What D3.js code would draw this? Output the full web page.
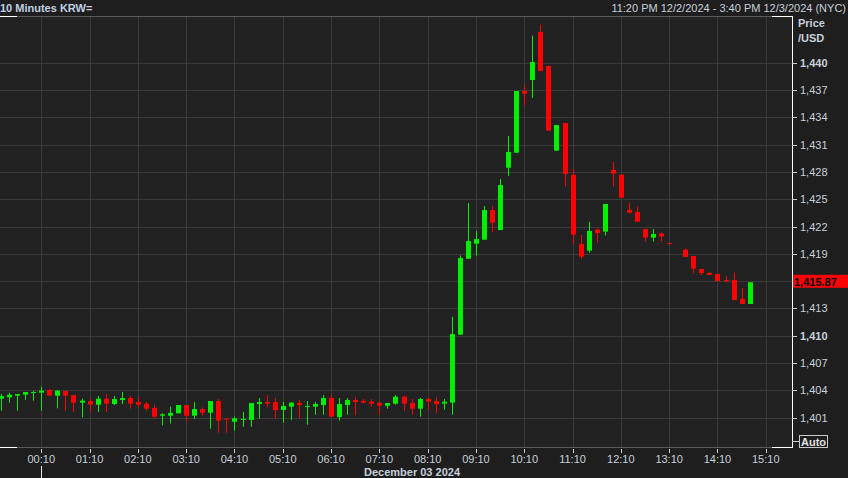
<!DOCTYPE html>
<html><head><meta charset="utf-8">
<script src="https://cdn.jsdelivr.net/npm/d3@7/dist/d3.min.js"></script>
<style>
html,body{margin:0;padding:0;background:#1e1e1e;overflow:hidden}
svg{display:block}
text{font-family:"Liberation Sans",Arial,sans-serif;font-size:11px}
</style></head><body>
<svg id="c" width="848" height="478"></svg>
<script>
const title = "10 Minutes KRW=";
const rangeText = "11:20 PM 12/2/2024 - 3:40 PM 12/3/2024 (NYC)";
const dateLabel = "December 03 2024";
const axisTitle = ["Price", "/USD"];
const startTime = "2024-12-02T23:20:00Z";
const endTime = "2024-12-03T15:40:00Z";
const stepMinutes = 10;

const opens = [1403.08,1403.23,1403.41,1403.52,1403.74,1403.74,1404.03,1403.41,1403.92,1403.48,
1402.64,1402.82,1402.42,1403.08,1402.49,1402.93,1403.15,1402.71,1402.53,1402.05,
1401.21,1401.21,1401.47,1402.38,1401.21,1401.94,1401.54,1402.82,1400.88,1400.55,
1400.77,1400.74,1402.49,1402.71,1402.71,1401.83,1402.20,1402.60,1402.20,1402.20,
1402.38,1403.15,1401.07,1402.38,1402.93,1402.82,1402.75,1402.60,1402.31,1402.53,
1403.30,1402.60,1401.98,1403.04,1402.82,1402.53,1402.64,1410.11,1418.46,1420.11,
1420.55,1423.81,1421.61,1428.46,1430.11,1436.89,1438.10,1443.37,1439.64,1430.33,
1433.37,1427.66,1420.08,1419.35,1421.66,1421.44,1428.21,1427.70,1423.82,1423.60,
1421.73,1420.78,1421.22,1420.17,null,1419.46,1418.76,1417.33,1416.89,1416.78,
1416.12,1416.12,1414.04,1413.49];
const highs = [1403.59,1403.74,1403.59,1403.81,1403.96,1404.40,1404.11,1404.03,1403.92,1403.48,
1403.08,1403.08,1403.37,1403.59,1403.37,1403.81,1403.37,1403.23,1402.71,1402.42,
1401.47,1402.20,1402.38,1402.38,1402.71,1402.13,1402.82,1403.04,1400.88,1401.10,
1401.62,1402.60,1403.15,1403.45,1403.15,1402.71,1402.71,1402.93,1402.82,1402.71,
1403.48,1403.48,1403.15,1403.15,1403.23,1403.04,1403.04,1402.82,1402.60,1403.48,
1403.41,1403.04,1403.15,1403.23,1403.23,1403.04,1412.09,1418.83,1424.58,1421.50,
1424.25,1424.25,1427.22,1431.94,1436.89,1437.55,1442.97,1444.18,1439.64,1433.15,
1433.37,1428.32,1421.07,1422.50,1421.77,1424.48,1429.09,1427.70,1424.62,1424.18,
1421.73,1421.73,1421.33,1420.17,null,1419.57,1418.76,1417.33,1417.00,1416.78,
1416.56,1416.93,1415.25,1415.87];
const lows = [1401.76,1402.64,1401.76,1402.93,1402.86,1401.76,1403.41,1402.02,1401.76,1401.62,
1401.03,1401.62,1401.62,1401.62,1402.38,1402.49,1401.98,1402.13,1401.76,1400.88,
1400.15,1400.37,1401.47,1400.55,1400.85,1401.21,1399.78,1399.34,1399.34,1399.56,
1400.00,1400.00,1400.88,1402.13,1400.88,1400.44,1400.74,1400.88,1400.22,1401.32,
1401.32,1401.10,1400.66,1401.32,1401.25,1402.60,1402.20,1401.32,1401.98,1402.42,
1401.76,1401.32,1401.10,1401.87,1401.47,1401.87,1401.32,1410.11,1418.46,1418.79,
1420.55,1421.39,1421.61,1427.58,1430.11,1435.31,1436.12,1439.09,1432.53,1430.33,
1426.38,1420.07,1418.40,1419.13,1420.23,1421.00,1426.38,1425.17,1423.45,1422.53,
1420.34,1420.34,1420.34,1420.13,null,1418.65,1416.86,1416.67,1416.67,1416.01,
1415.83,1413.93,1413.49,1413.49];
const closes = [1403.37,1403.52,1403.59,1403.81,1403.81,1403.96,1403.41,1403.96,1403.41,1402.64,
1402.86,1402.42,1403.08,1402.53,1403.04,1403.15,1402.53,1402.42,1401.98,1401.10,
1401.36,1401.51,1402.38,1401.21,1401.94,1401.54,1402.82,1400.66,1400.81,1400.92,
1400.85,1402.60,1402.71,1402.53,1401.83,1402.27,1402.64,1402.38,1402.27,1402.49,
1403.15,1401.10,1402.49,1402.93,1402.71,1402.64,1402.53,1402.31,1402.60,1403.30,
1402.53,1401.98,1403.04,1402.75,1402.49,1402.75,1410.19,1418.54,1420.40,1420.62,
1423.81,1422.42,1426.56,1430.19,1436.89,1436.60,1440.08,1439.09,1432.53,1433.15,
1427.77,1421.10,1418.69,1421.51,1421.29,1424.48,1427.81,1425.17,1423.52,1422.53,
1420.78,1421.18,1420.89,1420.13,null,1418.65,1417.37,1416.89,1416.67,1416.01,
1416.05,1413.93,1413.49,1415.87];

const xTickTimes = ["00:10","01:10","02:10","03:10","04:10","05:10","06:10","07:10",
"08:10","09:10","10:10","11:10","12:10","13:10","14:10","15:10"];
const yTicks = [1401,1404,1407,1410,1413,1416,1419,1422,1425,1428,1431,1434,1437,1440];
const yTickLabels = ["1,401","1,404","1,407","1,410","1,413","1,416","1,419","1,422","1,425","1,428","1,431","1,434","1,437","1,440"];
const boldTicks = [1410,1440];
const lastPrice = 1415.87;
const lastPriceLabel = "1,415.87";

const W = 848, H = 478;
const plot = {left: 0, right: 792, top: 17, bottom: 447};
const colUp = "#00f000", colDown = "#ff0000";
const textCol = "#c6d0da";
const gridCol = "#3a3a3a";

const svg = d3.select("#c");
svg.append("rect").attr("width", W).attr("height", H).attr("fill", "#1e1e1e");
svg.append("rect").attr("x", plot.left).attr("y", plot.top)
  .attr("width", plot.right - plot.left).attr("height", plot.bottom - plot.top).attr("fill", "#222222");

const t0 = new Date(startTime), t1 = new Date(endTime);
const x = d3.scaleUtc().domain([t0, t1]).range([1, 789.9]);
const y = d3.scaleLinear().domain([1401, 1440]).range([417.6, 62.7]);

const candles = opens.map((o, i) => ({
  t: new Date(t0.getTime() + i * stepMinutes * 60000),
  o, h: highs[i], l: lows[i], c: closes[i]
})).filter(d => d.o != null);

const tickDates = xTickTimes.map(s => {
  const [hh, mm] = s.split(":").map(Number);
  return new Date(Date.UTC(2024, 11, 3, hh, mm));
});

// grid
const g = svg.append("g");
g.selectAll(".hg").data(yTicks).join("line")
  .attr("x1", plot.left).attr("x2", plot.right)
  .attr("y1", d => Math.round(y(d)) + 0.5).attr("y2", d => Math.round(y(d)) + 0.5)
  .attr("stroke", gridCol);
g.selectAll(".vg").data(tickDates).join("line")
  .attr("x1", d => Math.round(x(d)) + 0.5).attr("x2", d => Math.round(x(d)) + 0.5)
  .attr("y1", plot.top).attr("y2", plot.bottom)
  .attr("stroke", gridCol);

// frame
const fr = svg.append("g");
fr.append("line").attr("x1", 0).attr("x2", plot.right).attr("y1", plot.top - 0.5).attr("y2", plot.top - 0.5).attr("stroke", "#5a5a5a");
fr.append("line").attr("x1", 0).attr("x2", plot.right).attr("y1", plot.bottom + 0.5).attr("y2", plot.bottom + 0.5).attr("stroke", "#5a5a5a");
[[0, 17], [772, 792]].forEach(([a, b]) => {
  fr.append("line").attr("x1", a).attr("x2", b).attr("y1", plot.top - 0.5).attr("y2", plot.top - 0.5).attr("stroke", "#ffffff");
  fr.append("line").attr("x1", a).attr("x2", b).attr("y1", plot.bottom + 0.5).attr("y2", plot.bottom + 0.5).attr("stroke", "#ffffff");
});
fr.append("line").attr("x1", plot.right + 0.5).attr("x2", plot.right + 0.5)
  .attr("y1", plot.top - 1).attr("y2", plot.bottom + 1).attr("stroke", "#ffffff");

// candles
const cg = svg.append("g");
const bw = 5;
cg.selectAll(".wick").data(candles).join("line")
  .attr("x1", d => Math.round(x(d.t)) + 0.5).attr("x2", d => Math.round(x(d.t)) + 0.5)
  .attr("y1", d => y(d.h)).attr("y2", d => y(d.l))
  .attr("stroke", d => d.c > d.o ? colUp : colDown).attr("stroke-width", 1);
cg.selectAll(".body").data(candles).join("rect")
  .attr("x", d => Math.round(x(d.t)) - 2)
  .attr("width", bw)
  .attr("y", d => y(Math.max(d.o, d.c)))
  .attr("height", d => Math.max(1, Math.abs(y(d.o) - y(d.c))))
  .attr("fill", d => d.c > d.o ? colUp : colDown);

// right axis
const yl = y(lastPrice);
const shownTicks = yTicks.filter(d => Math.abs(y(d) - yl) > 9);
const ra = svg.append("g");
ra.selectAll(".yt").data(yTicks).join("line")
  .attr("x1", plot.right).attr("x2", plot.right + 5)
  .attr("y1", d => Math.round(y(d)) + 0.5).attr("y2", d => Math.round(y(d)) + 0.5)
  .attr("stroke", textCol);
ra.selectAll(".yl").data(shownTicks).join("text")
  .attr("x", 800).attr("y", d => y(d) + 4)
  .attr("fill", textCol)
  .attr("font-weight", d => boldTicks.includes(d) ? "bold" : "normal")
  .text(d => yTickLabels[yTicks.indexOf(d)]);
ra.selectAll(".at").data(axisTitle).join("text")
  .attr("x", 798).attr("y", (d, i) => 27 + i * 15)
  .attr("fill", textCol).attr("font-weight", "bold").text(d => d);

// last price tag
svg.append("rect").attr("x", 793).attr("y", yl - 7.5).attr("width", 55).attr("height", 13).attr("fill", "#ff0000");
svg.append("text").attr("x", 794).attr("y", yl + 4).attr("fill", "#000").attr("font-weight", "bold").attr("font-size", "12.5px").text(lastPriceLabel);

// Auto box
svg.append("line").attr("x1", 792).attr("x2", 799).attr("y1", 441.5).attr("y2", 441.5).attr("stroke", "#d0d0d0");
svg.append("rect").attr("x", 799.5).attr("y", 435.5).attr("width", 28).attr("height", 12)
  .attr("fill", "none").attr("stroke", "#c8c8c8");
svg.append("text").attr("x", 801).attr("y", 445.5).attr("fill", "#e0e0e0").attr("font-weight", "bold").text("Auto");

// bottom axis
const ba = svg.append("g");
ba.selectAll(".xt").data(tickDates).join("line")
  .attr("x1", d => Math.round(x(d)) + 0.5).attr("x2", d => Math.round(x(d)) + 0.5)
  .attr("y1", 449).attr("y2", 453).attr("stroke", textCol);
ba.selectAll(".xl").data(tickDates).join("text")
  .attr("x", d => x(d)).attr("y", 463).attr("text-anchor", "middle")
  .attr("fill", textCol).text((d, i) => xTickTimes[i]);
ba.append("line").attr("x1", Math.round(x(tickDates[0])) + 0.5).attr("x2", Math.round(x(tickDates[0])) + 0.5)
  .attr("y1", 466).attr("y2", 478).attr("stroke", "#e8e8e8");
ba.append("text").attr("x", 364).attr("y", 476).attr("fill", textCol).attr("font-weight", "bold").text(dateLabel);

// header
svg.append("text").attr("x", 0).attr("y", 12).attr("fill", "#c0d0e2").attr("font-weight", "bold").attr("font-size", "11.5px").text(title);
svg.append("text").attr("x", 846).attr("y", 12).attr("text-anchor", "end").attr("fill", textCol).text(rangeText);
</script>
</body></html>
